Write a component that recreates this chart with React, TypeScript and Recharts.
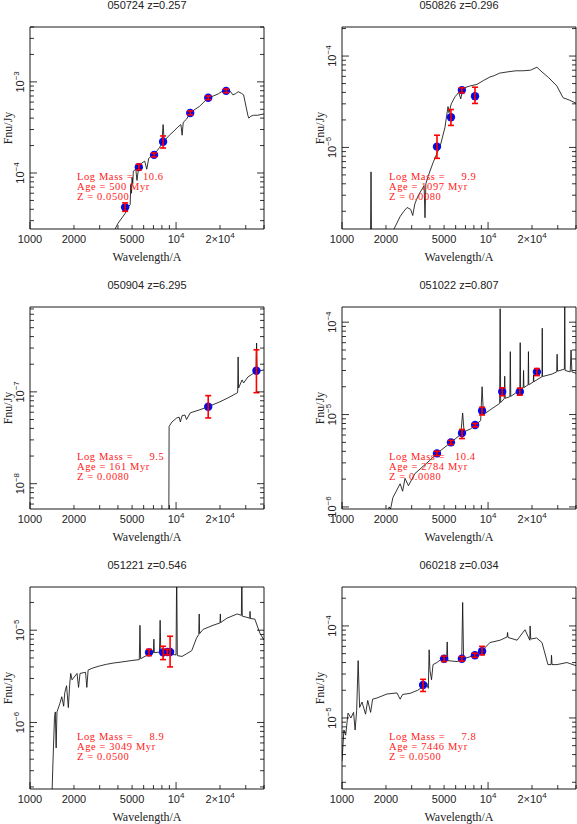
import React from 'react';
import { ComposedChart, Line, Scatter, XAxis, YAxis, ErrorBar } from 'recharts';

// wavelength axis (Angstrom), shared by all six panels
const X_MIN = 1000;
const X_MAX = 40000;
const xTicks = [1000, 2000, 3000, 4000, 5000, 6000, 7000, 8000, 9000, 10000, 20000, 30000, 40000];
const xLabelValues = [1000, 2000, 5000, 10000, 20000];
const xLabelBase = ['1000', '2000', '5000', '10', '2×10'];
const xLabelSup = ['', '', '', '4', '4'];

// panel headers and fit results
const titles = ['050724 z=0.257', '050826 z=0.296', '050904 z=6.295', '051022 z=0.807', '051221 z=0.546', '060218 z=0.034'];
const masses = ['  10.6', '    9.9', '    9.5', '  10.4', '    8.9', '    7.8'];
const ages = ['500', '1097', '161', '2784', '3049', '7446'];
const metals = ['0.0500', '0.0080', '0.0080', '0.0080', '0.0500', '0.0500'];
const yDomains = [
  [2.43e-5, 4.0e-3],
  [1.28e-6, 2.08e-4],
  [5.3e-9, 8.4e-7],
  [9.5e-7, 1.46e-4],
  [1.9e-7, 2.94e-5],
  [1.69e-6, 2.65e-4],
];

// 050724 model + photometry
const spec1W = [3600, 4000, 4480, 4700, 4850, 4900, 4950, 5000, 5050, 5100, 5300, 5400, 5550, 5800, 6100, 6300, 6500, 6950, 7300, 7700, 8000, 8150, 8300, 9000, 9700, 10300, 10800, 11000, 11200, 11800, 12500, 13500, 14500, 15500, 16600, 18000, 19500, 21000, 22500, 23500, 24500, 25500, 26600, 28000, 29000, 31000, 31500, 32500, 34000, 36000, 40000];
const spec1F = [2.0e-5, 2.8e-5, 3.6e-5, 4.2e-5, 4.5e-5, 7.5e-5, 6.0e-5, 9.0e-5, 7.5e-5, 1.05e-4, 1.1e-4, 8.3e-5, 1.16e-4, 1.28e-4, 1.35e-4, 1.1e-4, 1.45e-4, 1.58e-4, 1.7e-4, 1.9e-4, 2.1e-4, 3.4e-4, 2.25e-4, 2.6e-4, 2.9e-4, 3.2e-4, 3.4e-4, 2.6e-4, 3.6e-4, 3.9e-4, 4.56e-4, 5.0e-4, 5.4e-4, 6.0e-4, 6.7e-4, 7.0e-4, 7.4e-4, 8.0e-4, 8.4e-4, 7.9e-4, 7.2e-4, 7.4e-4, 7.8e-4, 7.5e-4, 7.2e-4, 4.3e-4, 4.0e-4, 4.2e-4, 4.3e-4, 4.3e-4, 4.45e-4];
const obs1W = [4480, 5560, 7070, 8150, 12500, 16600, 22000];
const obs1F = [4.2e-5, 1.16e-4, 1.58e-4, 2.2e-4, 4.56e-4, 6.7e-4, 7.96e-4];
const obs1Lo = [3.8e-5, 1.08e-4, 1.5e-4, 1.88e-4, 4.35e-4, 6.4e-4, 7.6e-4];
const obs1Hi = [4.7e-5, 1.25e-4, 1.66e-4, 2.55e-4, 4.8e-4, 7.0e-4, 8.35e-4];

// 050826
const spec2W = [1550, 1580, 1610, 2150, 2270, 2500, 2650, 2790, 2950, 3050, 3150, 3300, 3530, 3650, 3700, 3750, 3880, 4200, 4450, 4690, 5070, 5200, 5320, 5400, 5600, 5950, 6300, 6500, 6740, 7500, 8400, 9300, 10300, 11000, 12000, 13500, 15500, 17300, 19500, 21600, 23400, 26000, 29600, 32600, 36000, 40800];
const spec2F = [1e-7, 5.4e-6, 1e-7, 1.0e-6, 1.28e-6, 1.75e-6, 2.0e-6, 2.2e-6, 2.1e-6, 1.8e-6, 2.4e-6, 2.9e-6, 3.5e-6, 3.8e-6, 1.7e-6, 4.0e-6, 4.8e-6, 6.8e-6, 8.5e-6, 1.02e-5, 1.66e-5, 2.2e-5, 2.8e-5, 2.4e-5, 3.0e-5, 3.6e-5, 4.0e-5, 3.4e-5, 4.45e-5, 4.7e-5, 4.9e-5, 5.4e-5, 5.9e-5, 6.1e-5, 6.5e-5, 6.7e-5, 6.9e-5, 6.9e-5, 7.0e-5, 7.55e-5, 6.7e-5, 5.8e-5, 4.7e-5, 3.5e-5, 3.3e-5, 3.0e-5];
const obs2W = [4470, 5570, 6620, 8140];
const obs2F = [1.02e-5, 2.14e-5, 4.24e-5, 3.63e-5];
const obs2Lo = [7.6e-6, 1.74e-5, 3.95e-5, 3.03e-5];
const obs2Hi = [1.36e-5, 2.6e-5, 4.5e-5, 4.56e-5];

// 050904
const spec3W = [8900, 8960, 9370, 10100, 10500, 10700, 11000, 11500, 11800, 12500, 14600, 16600, 20000, 23000, 26400, 26600, 26800, 28300, 29000, 31000, 33000, 35300, 35600, 35900, 40000];
const spec3F = [1e-9, 4.2e-8, 4.7e-8, 5.2e-8, 5.3e-8, 4.7e-8, 5.5e-8, 5.6e-8, 5.0e-8, 5.9e-8, 6.4e-8, 6.9e-8, 7.8e-8, 8.7e-8, 9.8e-8, 2.4e-7, 1.1e-7, 1.35e-7, 1.25e-7, 1.45e-7, 1.55e-7, 1.66e-7, 3.4e-7, 1.68e-7, 1.73e-7];
const obs3W = [16600, 35500];
const obs3F = [6.9e-8, 1.7e-7];
const obs3Lo = [5.2e-8, 9.8e-8];
const obs3Hi = [9.1e-8, 2.87e-7];

// 051022
const spec4W = [2050, 2100, 2150, 2230, 2500, 2600, 2700, 2850, 3160, 4000, 4470, 5570, 6500, 6700, 6850, 7600, 8150, 8900, 9100, 9300, 10300, 12000, 12100, 12200, 12900, 13000, 13100, 14100, 14200, 14300, 16500, 16600, 16700, 17400, 17500, 17600, 18800, 18900, 19000, 20400, 20500, 20600, 23400, 23500, 23600, 27500, 29500, 29700, 29900, 33300, 33500, 33700, 36500, 37000, 37500, 40000];
const spec4F = [8e-7, 1.0e-6, 9.5e-7, 1.26e-6, 1.78e-6, 1.48e-6, 2.04e-6, 1.7e-6, 2.3e-6, 3.2e-6, 3.8e-6, 5.0e-6, 6.1e-6, 1.04e-5, 6.5e-6, 7.0e-6, 7.7e-6, 8.6e-6, 2.0e-5, 1.0e-5, 1.12e-5, 1.32e-5, 1.4e-4, 1.35e-5, 1.48e-5, 2.6e-5, 1.5e-5, 1.56e-5, 4.8e-5, 1.57e-5, 1.85e-5, 6.0e-5, 1.86e-5, 1.95e-5, 3.0e-5, 1.96e-5, 2.1e-5, 4.8e-5, 2.1e-5, 2.25e-5, 2.7e-5, 2.27e-5, 2.57e-5, 8.6e-5, 2.58e-5, 2.75e-5, 2.9e-5, 4.5e-5, 2.95e-5, 3.1e-5, 1.8e-4, 3.0e-5, 2.9e-5, 5.0e-5, 2.9e-5, 2.8e-5];
const obs4W = [4470, 5570, 6630, 8150, 9100, 12500, 16500, 21600];
const obs4F = [3.8e-6, 5.0e-6, 6.3e-6, 7.7e-6, 1.1e-5, 1.77e-5, 1.77e-5, 2.9e-5];
const obs4Lo = [3.6e-6, 4.75e-6, 5.5e-6, 7.35e-6, 9.9e-6, 1.6e-5, 1.62e-5, 2.64e-5];
const obs4Hi = [4.0e-6, 5.25e-6, 6.9e-6, 8.0e-6, 1.2e-5, 1.95e-5, 1.93e-5, 3.15e-5];

// 051221
const spec5W = [1400, 1440, 1470, 1490, 1510, 1530, 1600, 1650, 1700, 1730, 1780, 1830, 1870, 1900, 1940, 2100, 2150, 2200, 2400, 2450, 2500, 2700, 3000, 3340, 3700, 4130, 5000, 5600, 5660, 5720, 6630, 7000, 7050, 7100, 7700, 7780, 7860, 9100, 10000, 10100, 10200, 11000, 12800, 13800, 14300, 14400, 14500, 15300, 17900, 20000, 20100, 20200, 22300, 26200, 28000, 28200, 28400, 30500, 32000, 32100, 32200, 34600, 37500, 40000];
const spec5F = [1e-7, 4.2e-7, 1.1e-6, 1.3e-6, 5.3e-7, 1.3e-6, 1.6e-6, 1.9e-6, 1.5e-6, 2.1e-6, 2.5e-6, 1.45e-6, 2.6e-6, 3.4e-6, 2.9e-6, 3.4e-6, 2.4e-6, 3.4e-6, 3.5e-6, 2.4e-6, 3.7e-6, 3.9e-6, 4.1e-6, 4.27e-6, 4.4e-6, 4.5e-6, 4.7e-6, 4.8e-6, 1.13e-5, 4.9e-6, 5.6e-6, 5.7e-6, 8.0e-6, 5.7e-6, 5.8e-6, 1.28e-5, 5.8e-6, 5.5e-6, 5.4e-6, 5e-5, 5.3e-6, 5.2e-6, 6.0e-6, 8.2e-6, 9.0e-6, 1.5e-5, 9.2e-6, 1.02e-5, 1.13e-5, 1.2e-5, 1.5e-5, 1.21e-5, 1.35e-5, 1.5e-5, 1.45e-5, 5e-5, 1.42e-5, 1.38e-5, 1.35e-5, 1.6e-5, 1.34e-5, 1.32e-5, 9.3e-6, 7.8e-6];
const obs5W = [6530, 8150, 8700, 9100];
const obs5F = [5.75e-6, 5.75e-6, 5.8e-6, 5.8e-6];
const obs5Lo = [5.3e-6, 4.8e-6, 5.4e-6, 4.0e-6];
const obs5Hi = [6.2e-6, 6.7e-6, 6.2e-6, 8.6e-6];

// 060218
const spec6W = [1000, 1030, 1060, 1100, 1150, 1200, 1230, 1260, 1290, 1320, 1370, 1450, 1500, 1570, 1620, 1740, 2030, 2380, 2500, 2600, 2920, 3300, 3590, 3800, 3900, 3950, 4000, 4100, 4200, 4460, 4930, 5200, 5250, 5300, 6130, 6600, 6700, 6800, 8130, 9230, 10300, 12100, 13500, 13600, 13700, 15800, 17900, 19300, 19400, 19600, 21500, 23400, 25700, 27000, 27200, 27400, 29600, 34700, 40000];
const spec6F = [3.4e-6, 7.4e-6, 6.5e-6, 1.13e-5, 1.0e-5, 1.15e-5, 7.4e-6, 1.2e-5, 4.2e-5, 1.3e-5, 1.49e-5, 1.1e-5, 1.55e-5, 1.15e-5, 1.6e-5, 1.65e-5, 1.82e-5, 1.87e-5, 1.6e-5, 1.8e-5, 1.85e-5, 2.0e-5, 2.2e-5, 2.4e-5, 2.1e-5, 5.5e-5, 3.3e-5, 2.6e-5, 3.8e-5, 4.0e-5, 4.5e-5, 4.2e-5, 6.7e-5, 4.2e-5, 4.1e-5, 4.3e-5, 1.8e-4, 4.4e-5, 4.8e-5, 5.5e-5, 6.6e-5, 7.0e-5, 7.6e-5, 8.5e-5, 7.5e-5, 7.0e-5, 9.1e-5, 7.0e-5, 1.0e-4, 7.2e-5, 7.4e-5, 6.6e-5, 3.8e-5, 3.8e-5, 4.8e-5, 3.8e-5, 3.8e-5, 4.0e-5, 3.7e-5];
const obs6W = [3590, 5000, 6620, 8130, 9100];
const obs6F = [2.28e-5, 4.4e-5, 4.4e-5, 4.8e-5, 5.3e-5];
const obs6Lo = [1.94e-5, 4.1e-5, 4.15e-5, 4.55e-5, 4.85e-5];
const obs6Hi = [2.63e-5, 4.7e-5, 4.65e-5, 5.05e-5, 6.0e-5];

const specWs = [spec1W, spec2W, spec3W, spec4W, spec5W, spec6W];
const specFs = [spec1F, spec2F, spec3F, spec4F, spec5F, spec6F];
const obsWs = [obs1W, obs2W, obs3W, obs4W, obs5W, obs6W];
const obsFs = [obs1F, obs2F, obs3F, obs4F, obs5F, obs6F];
const obsLos = [obs1Lo, obs2Lo, obs3Lo, obs4Lo, obs5Lo, obs6Lo];
const obsHis = [obs1Hi, obs2Hi, obs3Hi, obs4Hi, obs5Hi, obs6Hi];

const SANS = '"Liberation Sans", Arial, sans-serif';
const SERIF = '"Liberation Serif", "Times New Roman", serif';

const isDecade = (v: number) => Math.abs(Math.log10(v) - Math.round(Math.log10(v))) < 1e-6;

// major ticks at decades, minor at 2..9
function logTicks(min: number, max: number) {
  const out: number[] = [];
  for (let n = Math.floor(Math.log10(min)); n <= Math.ceil(Math.log10(max)); n++) {
    for (let k = 1; k <= 9; k++) {
      const v = Number((k * Math.pow(10, n)).toPrecision(6));
      if (v >= min && v <= max) out.push(v);
    }
  }
  return out;
}

const BottomTick = (props: any) => {
  const { x, y, payload } = props;
  const v = payload.value;
  const len = isDecade(v) ? 7 : 4;
  const i = xLabelValues.indexOf(v);
  return (
    <g>
      <line x1={x} y1={y} x2={x} y2={y - len} stroke="#000" strokeWidth={0.8} />
      {i >= 0 && (
        <text x={x} y={y + 14} textAnchor="middle" fontSize={11} fontFamily={SANS} fill="#222">
          {xLabelBase[i]}
          {xLabelSup[i] && <tspan dy={-5} fontSize={8}>{xLabelSup[i]}</tspan>}
        </text>
      )}
    </g>
  );
};

const TopTick = (props: any) => {
  const { x, y, payload } = props;
  const len = isDecade(payload.value) ? 7 : 4;
  return <line x1={x} y1={y} x2={x} y2={y + len} stroke="#000" strokeWidth={0.8} />;
};

const LeftTick = (props: any) => {
  const { x, y, payload } = props;
  const v = payload.value;
  const major = isDecade(v);
  const e = Math.round(Math.log10(v));
  return (
    <g>
      <line x1={x} y1={y} x2={x + (major ? 7 : 4)} y2={y} stroke="#000" strokeWidth={0.8} />
      {major && (
        <text transform={`translate(${x - 6},${y}) rotate(-90)`} textAnchor="middle" fontSize={11} fontFamily={SANS} fill="#222">
          10<tspan dy={-5} fontSize={8}>{'−' + Math.abs(e)}</tspan>
        </text>
      )}
    </g>
  );
};

const RightTick = (props: any) => {
  const { x, y, payload } = props;
  const len = isDecade(payload.value) ? 7 : 4;
  return <line x1={x} y1={y} x2={x - len} y2={y} stroke="#000" strokeWidth={0.8} />;
};

// blue photometry dot with the small black model marker
const Dot = (p: any) => (
  <g>
    <circle cx={p.cx} cy={p.cy} r={4.2} fill="#0a0af0" />
    <path d={`M${p.cx - 1.8},${p.cy - 1.8}L${p.cx + 1.8},${p.cy + 1.8}M${p.cx - 1.8},${p.cy + 1.8}L${p.cx + 1.8},${p.cy - 1.8}`} stroke="#000" strokeWidth={0.8} />
  </g>
);

function Panel({ idx, left, top }: { idx: number; left: number; top: number }) {
  const specData = specWs[idx].map((w, i) => ({ w, f: specFs[idx][i] }));
  const obsData = obsWs[idx].map((w, i) => ({
    w,
    f: obsFs[idx][i],
    err: [obsFs[idx][i] - obsLos[idx][i], obsHis[idx][i] - obsFs[idx][i]],
  }));
  const yDom = yDomains[idx];
  const yTicks = logTicks(yDom[0], yDom[1]);
  const axisLine = { stroke: '#000', strokeWidth: 0.9 };

  return (
    <div style={{ position: 'absolute', left, top, width: 288, height: 275 }}>
      <div style={{ position: 'absolute', left: 0, top: -2, width: 294, textAlign: 'center', fontFamily: SANS, fontSize: 11, lineHeight: '14px', color: '#222' }}>
        {titles[idx]}
      </div>
      <ComposedChart width={288} height={275} margin={{ top: 26, right: 23, bottom: 45, left: 29 }}>
        <XAxis xAxisId="b" dataKey="w" type="number" scale="log" domain={[X_MIN, X_MAX]} allowDataOverflow
          ticks={xTicks} interval={0} tick={<BottomTick />} tickLine={false} tickSize={0} tickMargin={0} height={1}
          axisLine={axisLine} />
        <XAxis xAxisId="t" orientation="top" type="number" scale="log" domain={[X_MIN, X_MAX]} allowDataOverflow
          ticks={xTicks} interval={0} tick={<TopTick />} tickLine={false} tickSize={0} tickMargin={0} height={1}
          axisLine={axisLine} />
        <YAxis yAxisId="l" dataKey="f" type="number" scale="log" domain={yDom} allowDataOverflow
          ticks={yTicks} interval={0} tick={<LeftTick />} tickLine={false} tickSize={0} tickMargin={0} width={1}
          axisLine={axisLine} />
        <YAxis yAxisId="r" orientation="right" type="number" scale="log" domain={yDom} allowDataOverflow
          ticks={yTicks} interval={0} tick={<RightTick />} tickLine={false} tickSize={0} tickMargin={0} width={1}
          axisLine={axisLine} />
        <Line xAxisId="b" yAxisId="l" data={specData} dataKey="f" type="linear" stroke="#111" strokeWidth={0.85}
          dot={false} activeDot={false} isAnimationActive={false} />
        <Scatter xAxisId="b" yAxisId="l" data={obsData} dataKey="f" shape={Dot} isAnimationActive={false}>
          <ErrorBar dataKey="err" direction="y" width={3} strokeWidth={1.6} stroke="#ff0000" {...({ zIndex: 700 } as any)} />
        </Scatter>
      </ComposedChart>
      <div style={{ position: 'absolute', left: 77, top: 172, fontFamily: SERIF, fontSize: 10.5, lineHeight: '10px', letterSpacing: '0.6px', color: '#ff1a1a', whiteSpace: 'pre' }}>
        <div>{'Log Mass = ' + masses[idx]}</div>
        <div>{'Age = ' + ages[idx] + ' Myr'}</div>
        <div>{'Z = ' + metals[idx]}</div>
      </div>
      <div style={{ position: 'absolute', left: 30, top: 250, width: 234, textAlign: 'center', fontFamily: SERIF, fontSize: 12, lineHeight: '14px', color: '#222' }}>
        Wavelength/A
      </div>
      <div style={{ position: 'absolute', left: 8, top: 128, transform: 'translate(-50%, -50%) rotate(-90deg)', fontFamily: SERIF, fontSize: 12, lineHeight: '14px', color: '#222', whiteSpace: 'nowrap' }}>
        Fnu/Jy
      </div>
    </div>
  );
}

export default function App() {
  return (
    <div style={{ position: 'absolute', left: 0, top: 0, width: 577, height: 824, overflow: 'hidden', background: '#fff' }}>
      <Panel idx={0} left={0} top={0} />
      <Panel idx={1} left={312} top={0} />
      <Panel idx={2} left={0} top={280} />
      <Panel idx={3} left={312} top={280} />
      <Panel idx={4} left={0} top={560} />
      <Panel idx={5} left={312} top={560} />
    </div>
  );
}
